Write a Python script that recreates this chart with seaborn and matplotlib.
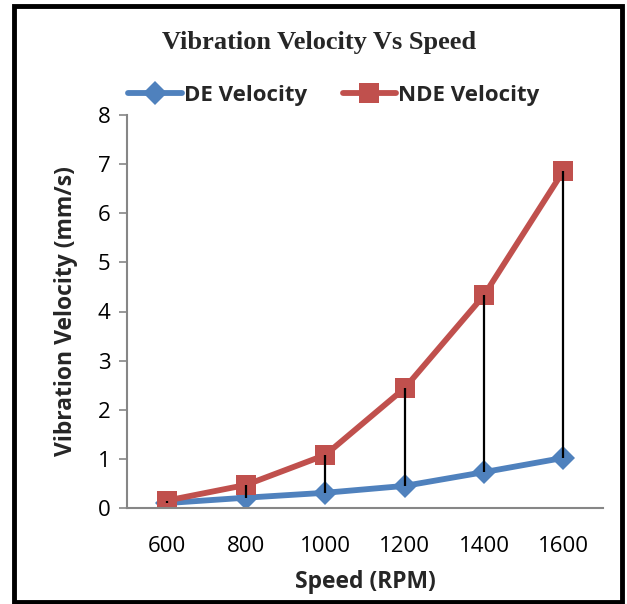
import matplotlib
matplotlib.use("Agg")
import matplotlib.pyplot as plt
import seaborn as sns
import pandas as pd
from matplotlib.patches import Rectangle
from matplotlib.lines import Line2D

speed = [600, 800, 1000, 1200, 1400, 1600]
de_velocity = [0.10, 0.21, 0.31, 0.45, 0.73, 1.02]
nde_velocity = [0.15, 0.47, 1.08, 2.44, 4.33, 6.86]
series_names = ["DE Velocity", "NDE Velocity"]

df = pd.DataFrame({
    "Speed": speed * 2,
    "Velocity": de_velocity + nde_velocity,
    "Series": [series_names[0]] * len(speed) + [series_names[1]] * len(speed),
})

sns.set_theme(style="white")
plt.rcParams['font.family'] = ['Open Sans', 'DejaVu Sans']

BLUE = "#4F81BD"
RED = "#C0504D"
AX = "#868686"
LW = 4.2
MS_D = 12.5
MS_S = 14

fig = plt.figure(figsize=(6.27, 6.04), dpi=100)
ax = fig.add_axes([127 / 627, 1 - 508 / 604, (603 - 127) / 627, (508 - 115) / 604])

sns.lineplot(data=df, x="Speed", y="Velocity", hue="Series", style="Series",
             palette=[BLUE, RED], markers=["D", "s"], dashes=False,
             linewidth=LW, markersize=12, markeredgewidth=0, ax=ax, legend=False)
for ln, ms in zip(ax.lines, [MS_D, MS_S]):
    ln.set_markersize(ms)

# high-low lines
ax.vlines(speed, de_velocity, nde_velocity, colors="black", linewidth=1.6, zorder=5)

ax.set_xlim(500, 1700)
ax.set_ylim(0, 8)
ax.set_xticks(speed)
ax.set_xticklabels([str(s) for s in speed])
ax.set_yticks(range(0, 9))
ax.tick_params(axis="y", which="both", left=True, length=6, width=1.2, color=AX,
               labelsize=16, pad=6, labelcolor="black")
ax.tick_params(axis="x", bottom=False, labelsize=16, pad=14, labelcolor="black")
for side in ["top", "right"]:
    ax.spines[side].set_visible(False)
for side in ["left", "bottom"]:
    ax.spines[side].set_color(AX)
    ax.spines[side].set_linewidth(1.5)

ax.set_xlabel("Speed (RPM)", fontsize=16.5, fontweight="bold")
ax.set_ylabel("Vibration Velocity (mm/s)", fontsize=16.5, fontweight="bold")
ax.xaxis.set_label_coords(0.5, (508 - 582) / 393)
ax.yaxis.set_label_coords((66 - 127) / 476, 0.5)
ax.xaxis.label.set_va("center")
ax.yaxis.label.set_va("center")

fig.text(319 / 627, 1 - 42 / 604, "Vibration Velocity Vs Speed", ha="center", va="center",
         fontsize=19, fontweight="bold", family=["Liberation Serif", "DejaVu Serif"])

handles = [
    Line2D([], [], color=BLUE, marker="D", linewidth=LW, markersize=MS_D, markeredgewidth=0),
    Line2D([], [], color=RED, marker="s", linewidth=LW, markersize=MS_S, markeredgewidth=0),
]
fig.legend(handles, series_names, loc="center", bbox_to_anchor=(334 / 627, 1 - 95 / 604),
           ncol=2, frameon=False, prop={"size": 16, "weight": "bold"},
           handlelength=2.4, handletextpad=0.1, columnspacing=1.6)

fig.patches.append(Rectangle((14 / 627, 1 - 602 / 604), (622 - 14) / 627, (602 - 6) / 604,
                             transform=fig.transFigure, fill=False, edgecolor="black",
                             linewidth=3.5))

fig.savefig("out.png", dpi=100)
